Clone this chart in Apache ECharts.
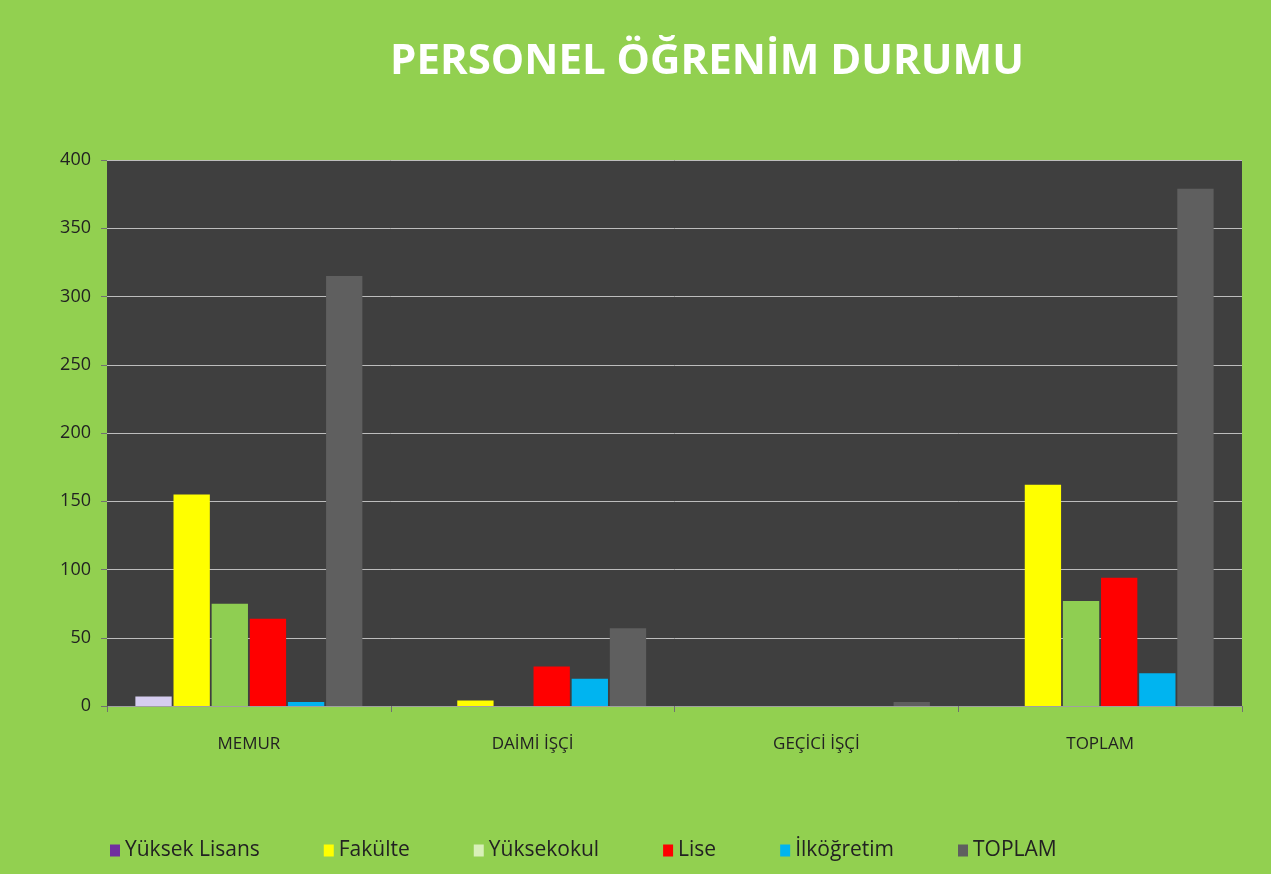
<!DOCTYPE html>
<html>
<head>
<meta charset="utf-8">
<script src="https://cdn.jsdelivr.net/npm/echarts@6/dist/echarts.min.js"></script>
<style>
html, body { margin: 0; padding: 0; background: #92d050; }
#chart { width: 1271px; height: 874px; }
</style>
</head>
<body>
<div id="chart"></div>
<script>
const categories = ['MEMUR', 'DAİMİ İŞÇİ', 'GEÇİCİ İŞÇİ', 'TOPLAM']
const yuksekLisans = [7, 0, 0, 0]
const fakulte = [155, 4, 0, 162]
const yuksekokul = [75, 0, 0, 77]
const lise = [64, 29, 0, 94]
const ilkogretim = [3, 20, 0, 24]
const toplam = [315, 57, 3, 379]
const yTicks = [0, 50, 100, 150, 200, 250, 300, 350, 400]

const chart = echarts.init(document.getElementById('chart'))

function bar(name, data, color) {
    return {
        name: name,
        type: 'bar',
        data: data,
        barGap: '5%',
        barCategoryGap: '20%',
        itemStyle: { color: color },
        emphasis: { disabled: true }
    }
}

chart.setOption({
    backgroundColor: '#92d050',
    textStyle: { fontFamily: 'Open Sans, sans-serif' },
    title: {
        text: 'PERSONEL ÖĞRENİM DURUMU',
        left: 702,
        top: 36,
        textAlign: 'center',
        textStyle: {
            color: '#ffffff',
            fontSize: 42,
            fontWeight: 'bold',
            fontFamily: 'Open Sans, sans-serif'
        }
    },
    legend: {
        bottom: 8,
        left: 105,
        itemWidth: 10,
        itemHeight: 12,
        itemGap: 64,
        icon: 'rect',
        textStyle: { color: '#222', fontSize: 21 },
        data: [
            { name: 'Yüksek Lisans', itemStyle: { color: '#7030a0' } },
            { name: 'Fakülte' },
            { name: 'Yüksekokul', itemStyle: { color: '#d8f0b8' } },
            { name: 'Lise' },
            { name: 'İlköğretim' },
            { name: 'TOPLAM' }
        ]
    },
    grid: {
        left: 107,
        right: 29,
        top: 160,
        bottom: 168,
        show: true,
        backgroundColor: '#3f3f3f',
        borderWidth: 0
    },
    xAxis: {
        type: 'category',
        data: categories,
        axisLine: { lineStyle: { color: '#a0a0a0' } },
        axisTick: { show: true, length: 6, lineStyle: { color: '#707070' } },
        axisLabel: { color: '#222', fontSize: 17, margin: 30 }
    },
    yAxis: {
        type: 'value',
        min: yTicks[0],
        max: yTicks[yTicks.length - 1],
        interval: 50,
        axisLine: { show: false },
        axisTick: { show: true, length: 6, lineStyle: { color: '#707070' } },
        axisLabel: { color: '#222', fontSize: 18, margin: 16 },
        splitLine: { lineStyle: { color: '#bdbdbd', width: 1 } }
    },
    series: [
        bar('Yüksek Lisans', yuksekLisans, '#d6cdf0'),
        bar('Fakülte', fakulte, '#ffff00'),
        bar('Yüksekokul', yuksekokul, '#8fce52'),
        bar('Lise', lise, '#ff0000'),
        bar('İlköğretim', ilkogretim, '#00b4f0'),
        bar('TOPLAM', toplam, '#5f5f5f')
    ]
})
</script>
</body>
</html>
